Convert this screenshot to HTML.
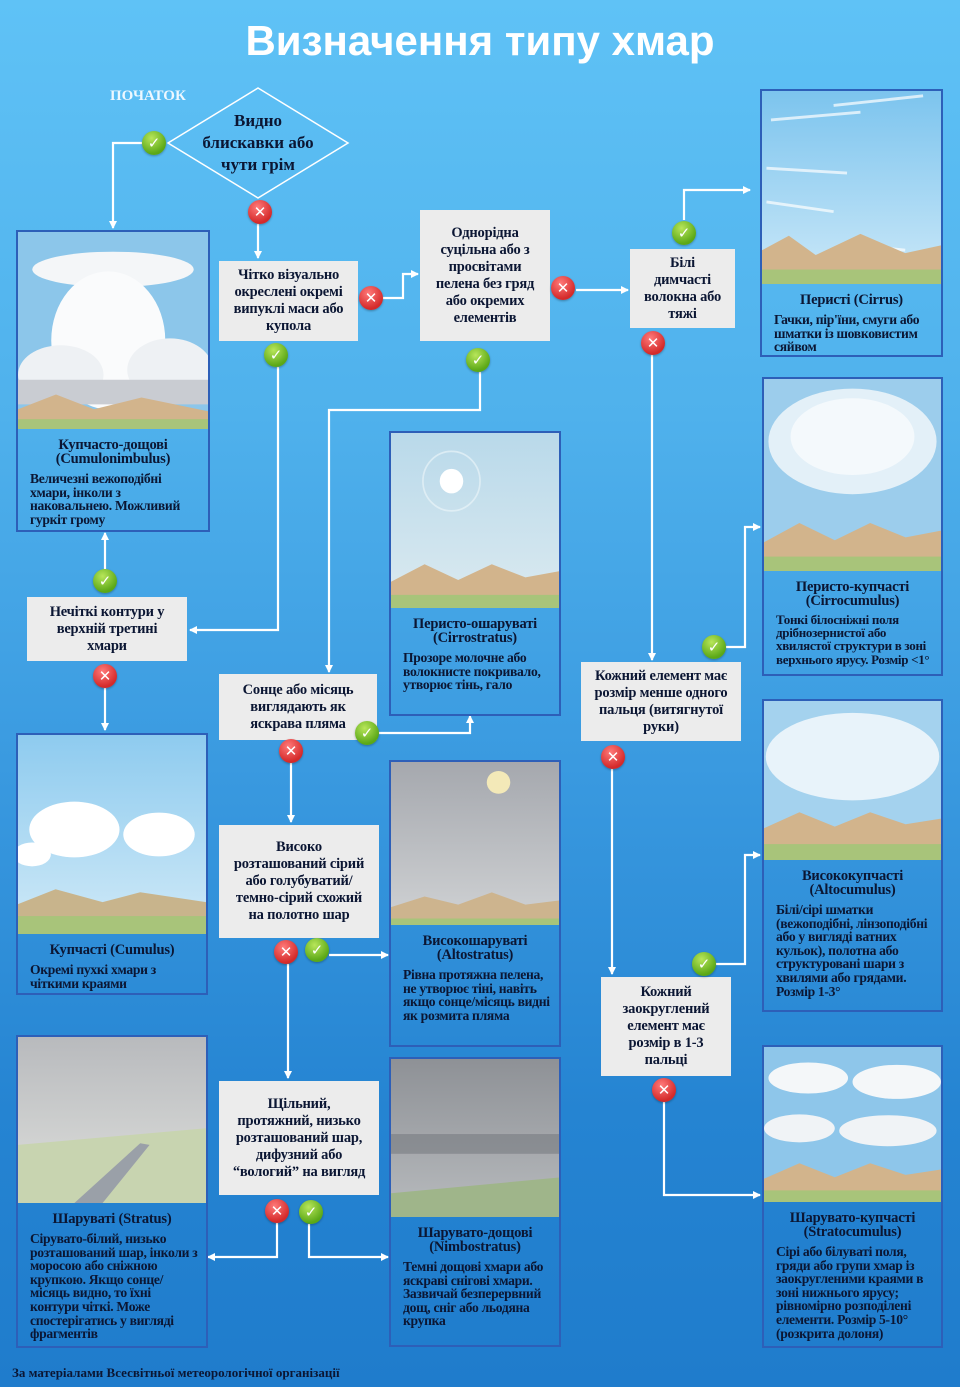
<!DOCTYPE html>
<html><head><meta charset="utf-8">
<style>
*{margin:0;padding:0;box-sizing:border-box}
body{width:960px;height:1387px;position:relative;overflow:hidden;background:linear-gradient(180deg,#5fc2f6 0%,#4fb1ec 30%,#3a9ae0 55%,#2584d2 80%,#1f7ccc 100%);font-family:"Liberation Serif",serif;font-weight:bold;color:#0b1633}
.a{position:absolute}
.box{position:absolute;background:#ececec;text-align:center;font-size:14.5px;line-height:17px;display:flex;align-items:center;justify-content:center;padding:2px 10px;letter-spacing:-0.2px}
.card{position:absolute;border:2px solid #2d5fb8;overflow:hidden}
.card svg{display:block;width:100%}
.ct{text-align:center;font-size:14.5px;line-height:14px;margin-top:9px;letter-spacing:-0.2px}
.cd{font-size:13.6px;line-height:13.6px;padding:0 8px 0 12px;margin-top:6px;letter-spacing:-0.3px}
.ic{position:absolute;width:24px;height:24px;border-radius:50%;color:#fff;font-family:"DejaVu Sans",sans-serif;font-size:15px;line-height:24px;text-align:center;font-weight:bold;box-shadow:0 1px 2px rgba(0,0,0,.3)}
.ok{background:radial-gradient(circle at 40% 30%,#b8e65a,#5ba817 70%)}
.no{background:radial-gradient(circle at 40% 30%,#ff7a7a,#d42a2a 70%)}
</style></head><body>
<div class="a" style="left:0;top:17px;width:960px;text-align:center;font-family:'Liberation Sans',sans-serif;font-size:42px;color:#fff;font-weight:bold">Визначення типу хмар</div>
<div class="a" style="left:110px;top:88px;color:#eef8ff;font-size:15px">ПОЧАТОК</div>

<svg class="a" style="left:0;top:0" width="960" height="1387">
<defs><marker id="m" markerWidth="8" markerHeight="8" refX="7" refY="4" orient="auto" markerUnits="userSpaceOnUse"><path d="M0,0 L8,4 L0,8z" fill="#fff"/></marker></defs>
<polygon points="258,88 348,143 258,198 168,143" fill="none" stroke="#fff" stroke-width="1.5"/>
<g stroke="#fff" stroke-width="2.2" fill="none" marker-end="url(#m)">
<polyline points="142,143 113,143 113,228"/>
<polyline points="258,224 258,258"/>
<polyline points="382,298 403,298 403,274 418,274"/>
<polyline points="576,290 628,290"/>
<polyline points="684,220 684,190 750,190"/>
<polyline points="652,355 652,660"/>
<polyline points="726,647 745,647 745,527 760,527"/>
<polyline points="612,769 612,974"/>
<polyline points="716,964 745,964 745,855 760,855"/>
<polyline points="664,1102 664,1195 760,1195"/>
<polyline points="480,372 480,410 329,410 329,672"/>
<polyline points="278,367 278,630 190,630"/>
<polyline points="105,569 105,533"/>
<polyline points="105,688 105,730"/>
<polyline points="379,733 470,733 470,716"/>
<polyline points="291,763 291,822"/>
<polyline points="288,964 288,1078"/>
<polyline points="329,955 388,955"/>
<polyline points="277,1223 277,1257 208,1257"/>
<polyline points="309,1224 309,1257 388,1257"/>
</g></svg>

<div class="a" style="left:198px;top:110px;width:120px;text-align:center;font-size:17px;line-height:22px">Видно блискавки або чути грім</div>

<div class="box" style="left:219px;top:261px;width:139px;height:80px">Чітко візуально окреслені окремі випуклі маси або купола</div>
<div class="box" style="left:420px;top:210px;width:130px;height:131px">Однорідна суцільна або з просвітами пелена без гряд або окремих елементів</div>
<div class="box" style="left:630px;top:249px;width:105px;height:79px">Білі димчасті волокна або тяжі</div>
<div class="box" style="left:27px;top:597px;width:160px;height:64px">Нечіткі контури у верхній третині хмари</div>
<div class="box" style="left:219px;top:674px;width:158px;height:66px">Сонце або місяць виглядають як яскрава пляма</div>
<div class="box" style="left:581px;top:662px;width:160px;height:79px">Кожний елемент має розмір менше одного пальця (витягнутої руки)</div>
<div class="box" style="left:219px;top:825px;width:160px;height:113px;padding:2px 14px">Високо розташований сірий або голубуватий/темно-сірий схожий на полотно шар</div>
<div class="box" style="left:601px;top:977px;width:130px;height:99px">Кожний заокруглений елемент має розмір в 1-3 пальці</div>
<div class="box" style="left:219px;top:1081px;width:160px;height:114px;padding:2px 12px">Щільний, протяжний, низько розташований шар, дифузний або “вологий” на вигляд</div>

<!-- cards -->
<div class="card" style="left:16px;top:230px;width:194px;height:302px">
<svg height="197" viewBox="0 0 200 200" preserveAspectRatio="none"><rect width="200" height="200" fill="#8cc6ea"/><ellipse cx="100" cy="38" rx="85" ry="18" fill="#f4f6f8"/><ellipse cx="95" cy="110" rx="60" ry="70" fill="#fafbfc"/><ellipse cx="45" cy="145" rx="45" ry="30" fill="#eef1f4"/><ellipse cx="160" cy="140" rx="45" ry="32" fill="#eef1f4"/><rect x="0" y="150" width="200" height="25" fill="#c9ccd2"/><polygon points="0,180 40,165 80,180 130,168 200,182 200,200 0,200" fill="#d2b48c"/><rect y="190" width="200" height="10" fill="#a8c47a"/></svg>
<div class="ct">Купчасто-дощові (Cumulonimbulus)</div>
<div class="cd">Величезні вежоподібні хмари, інколи з наковальнею. Можливий гуркіт грому</div></div>

<div class="card" style="left:760px;top:89px;width:183px;height:268px">
<svg height="193" viewBox="0 0 200 200" preserveAspectRatio="none"><defs><linearGradient id="s1" x1="0" y1="0" x2="0" y2="1"><stop offset="0" stop-color="#7cc4ee"/><stop offset="1" stop-color="#cbe8f8"/></linearGradient></defs><rect width="200" height="200" fill="url(#s1)"/><g stroke="#fff" stroke-width="3" opacity=".7"><line x1="10" y1="30" x2="110" y2="22"/><line x1="80" y1="15" x2="180" y2="5"/><line x1="5" y1="80" x2="95" y2="85"/><line x1="5" y1="115" x2="80" y2="125"/><line x1="110" y1="160" x2="160" y2="165"/></g><polygon points="0,165 30,150 60,170 110,148 160,168 200,160 200,200 0,200" fill="#d2b48c"/><rect y="185" width="200" height="15" fill="#a8c47a"/></svg>
<div class="ct">Перисті (Cirrus)</div>
<div class="cd">Гачки, пір'їни, смуги або шматки із шовковистим сяйвом</div></div>

<div class="card" style="left:389px;top:431px;width:172px;height:285px">
<svg height="175" viewBox="0 0 200 200" preserveAspectRatio="none"><defs><linearGradient id="s2" x1="0" y1="0" x2="0" y2="1"><stop offset="0" stop-color="#b9d9ea"/><stop offset="1" stop-color="#dbeaf0"/></linearGradient></defs><rect width="200" height="200" fill="url(#s2)"/><circle cx="72" cy="55" r="34" fill="none" stroke="#eef6fa" stroke-width="2" opacity=".6"/><circle cx="72" cy="55" r="14" fill="#fff"/><polygon points="0,170 40,150 80,168 120,150 160,165 200,158 200,200 0,200" fill="#d2b48c"/><rect y="185" width="200" height="15" fill="#a8c47a"/></svg>
<div class="ct">Перисто-ошаруваті (Cirrostratus)</div>
<div class="cd">Прозоре молочне або волокнисте покривало, утворює тінь, гало</div></div>

<div class="card" style="left:762px;top:377px;width:181px;height:299px">
<svg height="192" viewBox="0 0 200 200" preserveAspectRatio="none"><rect width="200" height="200" fill="#9ccdec"/><ellipse cx="100" cy="65" rx="95" ry="55" fill="#e3f0f8"/><ellipse cx="100" cy="60" rx="70" ry="40" fill="#f4f9fc"/><polygon points="0,170 40,150 80,168 120,150 160,165 200,158 200,200 0,200" fill="#d2b48c"/><rect y="185" width="200" height="15" fill="#a8c47a"/></svg>
<div class="ct">Перисто-купчасті (Cirrocumulus)</div>
<div class="cd" style="font-size:13px;line-height:13.2px;margin-top:5px">Тонкі білосніжні поля дрібнозернистої або хвилястої структури в зоні верхнього ярусу. Розмір &lt;1°</div></div>

<div class="card" style="left:16px;top:733px;width:192px;height:262px">
<svg height="199" viewBox="0 0 200 200" preserveAspectRatio="none"><defs><linearGradient id="s3" x1="0" y1="0" x2="0" y2="1"><stop offset="0" stop-color="#8ecbef"/><stop offset="1" stop-color="#cfe9f7"/></linearGradient></defs><rect width="200" height="200" fill="url(#s3)"/><ellipse cx="60" cy="95" rx="48" ry="28" fill="#fff"/><ellipse cx="150" cy="100" rx="38" ry="22" fill="#fff"/><ellipse cx="15" cy="120" rx="20" ry="12" fill="#fff"/><polygon points="0,170 40,155 90,168 130,158 200,168 200,200 0,200" fill="#c8b48c"/><rect y="182" width="200" height="18" fill="#a8c47a"/></svg>
<div class="ct">Купчасті (Cumulus)</div>
<div class="cd">Окремі пухкі хмари з чіткими краями</div></div>

<div class="card" style="left:389px;top:760px;width:172px;height:287px">
<svg height="163" viewBox="0 0 200 200" preserveAspectRatio="none"><defs><linearGradient id="s4" x1="0" y1="0" x2="0" y2="1"><stop offset="0" stop-color="#a5a8ae"/><stop offset="1" stop-color="#d0d2d4"/></linearGradient></defs><rect width="200" height="200" fill="url(#s4)"/><circle cx="128" cy="25" r="14" fill="#f3e9b8"/><polygon points="0,178 40,165 80,175 120,160 160,175 200,170 200,200 0,200" fill="#cdb48e"/><rect y="192" width="200" height="8" fill="#a8c47a"/></svg>
<div class="ct">Високошаруваті (Altostratus)</div>
<div class="cd">Рівна протяжна пелена, не утворює тіні, навіть якщо сонце/місяць видні як розмита пляма</div></div>

<div class="card" style="left:762px;top:699px;width:181px;height:313px">
<svg height="159" viewBox="0 0 200 200" preserveAspectRatio="none"><rect width="200" height="200" fill="#a4d2ee"/><ellipse cx="100" cy="70" rx="98" ry="55" fill="#e8f3fa"/><polygon points="0,160 40,140 80,158 120,140 160,155 200,148 200,200 0,200" fill="#d2b48c"/><rect y="180" width="200" height="20" fill="#a8c47a"/></svg>
<div class="ct">Висококупчасті (Altocumulus)</div>
<div class="cd">Білі/сірі шматки (вежоподібні, лінзоподібні або у вигляді ватних кульок), полотна або структуровані шари з хвилями або грядами. Розмір 1-3°</div></div>

<div class="card" style="left:16px;top:1035px;width:192px;height:313px">
<svg height="166" viewBox="0 0 200 200" preserveAspectRatio="none"><defs><linearGradient id="s5" x1="0" y1="0" x2="0" y2="1"><stop offset="0" stop-color="#b8babd"/><stop offset="1" stop-color="#dfe0dd"/></linearGradient></defs><rect width="200" height="200" fill="url(#s5)"/><polygon points="0,130 200,110 200,200 0,200" fill="#c8d4b0"/><polygon points="60,200 90,200 140,130 130,128" fill="#9aa0a8"/></svg>
<div class="ct">Шаруваті (Stratus)</div>
<div class="cd">Сірувато-білий, низько розташований шар, інколи з моросою або сніжною крупкою. Якщо сонце/місяць видно, то їхні контури чіткі. Може спостерігатись у вигляді фрагментів</div></div>

<div class="card" style="left:389px;top:1057px;width:172px;height:290px">
<svg height="158" viewBox="0 0 200 200" preserveAspectRatio="none"><defs><linearGradient id="s6" x1="0" y1="0" x2="0" y2="1"><stop offset="0" stop-color="#8e9196"/><stop offset="1" stop-color="#b8bbbe"/></linearGradient></defs><rect width="200" height="200" fill="url(#s6)"/><rect y="95" width="200" height="25" fill="#6e7278" opacity=".5"/><polygon points="0,170 200,150 200,200 0,200" fill="#9fb58a"/></svg>
<div class="ct">Шарувато-дощові (Nimbostratus)</div>
<div class="cd">Темні дощові хмари або яскраві снігові хмари. Зазвичай безперервний дощ, сніг або льодяна крупка</div></div>

<div class="card" style="left:762px;top:1045px;width:181px;height:303px">
<svg height="155" viewBox="0 0 200 200" preserveAspectRatio="none"><rect width="200" height="200" fill="#8ec6ea"/><ellipse cx="50" cy="40" rx="45" ry="20" fill="#f4f7f9"/><ellipse cx="150" cy="45" rx="50" ry="22" fill="#f4f7f9"/><ellipse cx="40" cy="105" rx="40" ry="18" fill="#f0f3f6"/><ellipse cx="140" cy="108" rx="55" ry="20" fill="#f0f3f6"/><polygon points="0,170 40,150 80,168 120,150 160,165 200,158 200,200 0,200" fill="#d2b48c"/><rect y="185" width="200" height="15" fill="#a8c47a"/></svg>
<div class="ct">Шарувато-купчасті (Stratocumulus)</div>
<div class="cd">Сірі або білуваті поля, гряди або групи хмар із заокругленими краями в зоні нижнього ярусу; рівномірно розподілені елементи. Розмір 5-10° (розкрита долоня)</div></div>

<!-- icons -->
<div class="ic ok" style="left:142px;top:131px">✓</div>
<div class="ic no" style="left:248px;top:200px">✕</div>
<div class="ic no" style="left:359px;top:286px">✕</div>
<div class="ic ok" style="left:264px;top:343px">✓</div>
<div class="ic ok" style="left:466px;top:348px">✓</div>
<div class="ic no" style="left:551px;top:276px">✕</div>
<div class="ic ok" style="left:672px;top:221px">✓</div>
<div class="ic no" style="left:641px;top:331px">✕</div>
<div class="ic ok" style="left:93px;top:569px">✓</div>
<div class="ic no" style="left:93px;top:664px">✕</div>
<div class="ic ok" style="left:355px;top:721px">✓</div>
<div class="ic no" style="left:279px;top:739px">✕</div>
<div class="ic ok" style="left:702px;top:635px">✓</div>
<div class="ic no" style="left:601px;top:745px">✕</div>
<div class="ic no" style="left:274px;top:940px">✕</div>
<div class="ic ok" style="left:305px;top:938px">✓</div>
<div class="ic ok" style="left:692px;top:952px">✓</div>
<div class="ic no" style="left:652px;top:1078px">✕</div>
<div class="ic no" style="left:265px;top:1199px">✕</div>
<div class="ic ok" style="left:299px;top:1200px">✓</div>

<div class="a" style="left:12px;top:1365px;font-size:13px;color:#0b1633">За матеріалами Всесвітньої метеорологічної організації</div>
</body></html>
